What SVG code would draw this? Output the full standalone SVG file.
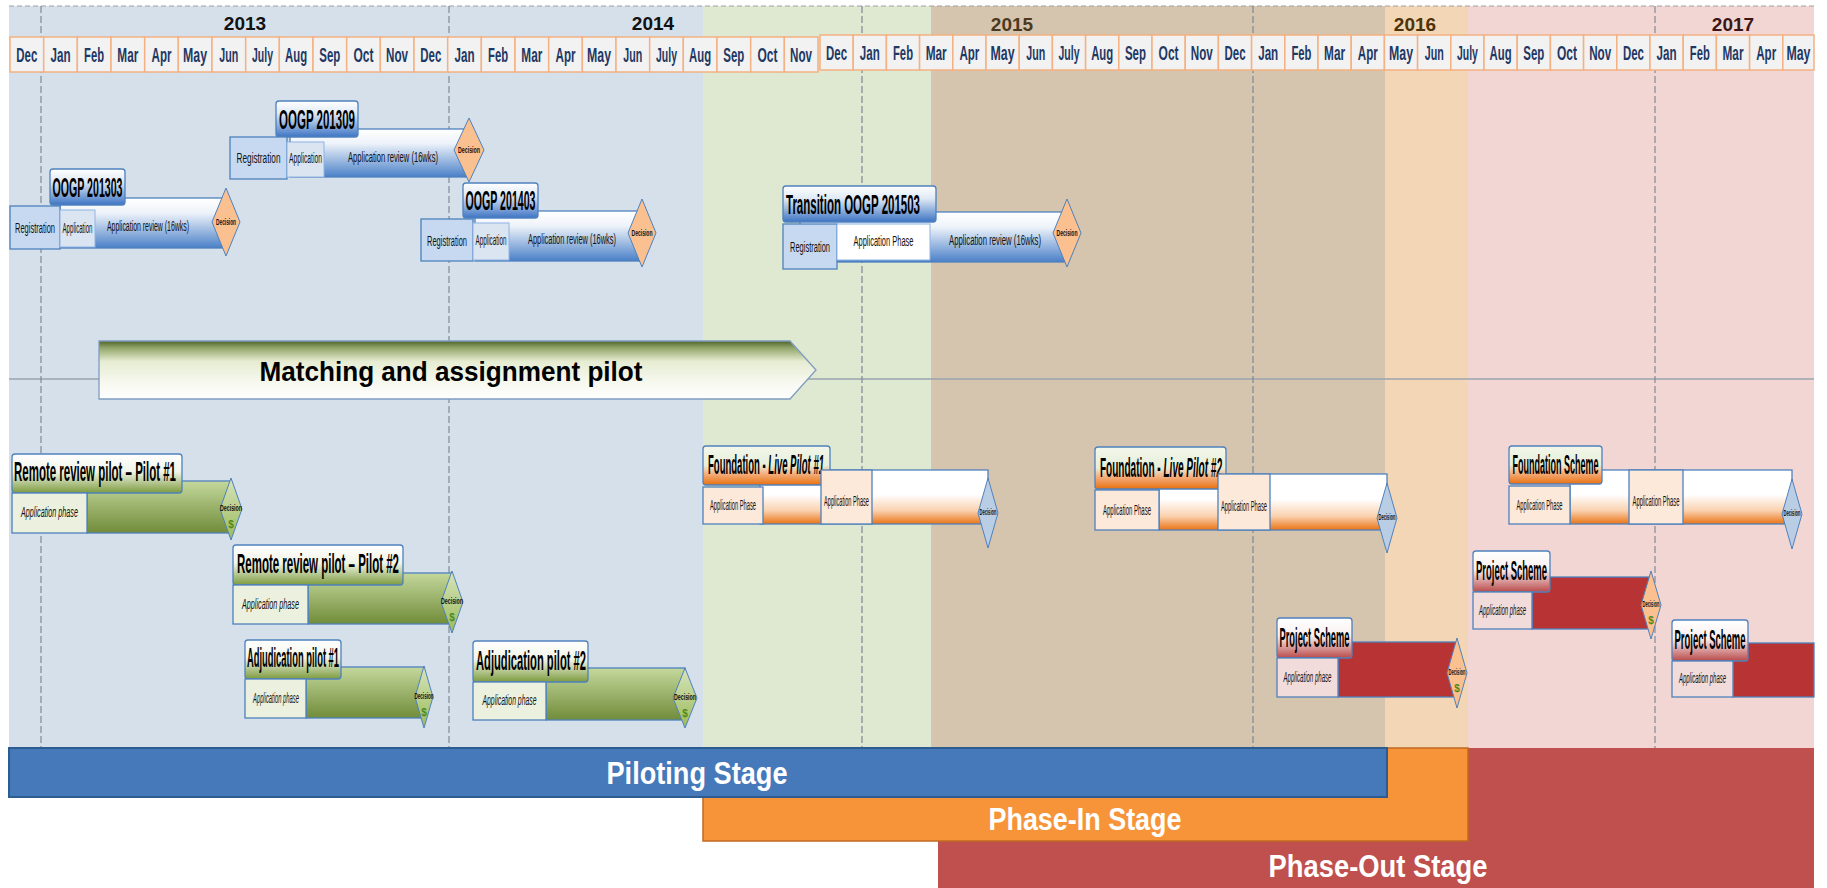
<svg xmlns="http://www.w3.org/2000/svg" width="1827" height="888" viewBox="0 0 1827 888">
<style>
.cell{fill:#f2f2f2;stroke:#f4b183;stroke-width:1.5}
.mon{font-family:"Liberation Sans",Arial,sans-serif;font-weight:bold;font-size:20px;fill:#1f3864;text-anchor:middle}
.yr{font-family:"Liberation Sans",Arial,sans-serif;font-weight:bold;font-size:19px;text-anchor:middle}
.vl{stroke:#7f8a96;stroke-width:1.2;stroke-dasharray:7 3}
.ttl{font-family:"Liberation Sans",Arial,sans-serif;font-weight:bold;font-size:28px;fill:#000;text-anchor:middle}
.sub{font-family:"Liberation Sans",Arial,sans-serif;font-size:14px;fill:#111;text-anchor:middle}
.subi{font-family:"Liberation Sans",Arial,sans-serif;font-size:14px;font-style:italic;fill:#111;text-anchor:middle}
.dec{font-family:"Liberation Sans",Arial,sans-serif;font-weight:bold;font-size:9px;fill:#111;text-anchor:middle}
.dol{font-family:"Liberation Sans",Arial,sans-serif;font-weight:bold;font-size:10px;fill:#4e8a1a;text-anchor:middle}
.stg{font-family:"Liberation Sans",Arial,sans-serif;font-weight:bold;font-size:31px;fill:#fff;text-anchor:middle}
.bord{stroke:#4f81bd;stroke-width:1.3}
</style>
<defs>
<linearGradient id="gBlueTitle" x1="0" y1="0" x2="0" y2="1"><stop offset="0" stop-color="#ffffff"/><stop offset="0.35" stop-color="#dfe9f5"/><stop offset="1" stop-color="#3d74c4"/></linearGradient>
<linearGradient id="gBlueBar" x1="0" y1="0" x2="0" y2="1"><stop offset="0" stop-color="#ffffff"/><stop offset="0.3" stop-color="#eef3fa"/><stop offset="1" stop-color="#4a80c8"/></linearGradient>
<linearGradient id="gGreenTitle" x1="0" y1="0" x2="0" y2="1"><stop offset="0" stop-color="#ffffff"/><stop offset="0.45" stop-color="#f1f5e8"/><stop offset="1" stop-color="#7d9b3e"/></linearGradient>
<linearGradient id="gGreenBar" x1="0" y1="0" x2="0" y2="1"><stop offset="0" stop-color="#c4d89c"/><stop offset="1" stop-color="#718c3a"/></linearGradient>
<linearGradient id="gGreenDia" x1="0" y1="0" x2="0" y2="1"><stop offset="0" stop-color="#d7e4bd"/><stop offset="1" stop-color="#9bbb59"/></linearGradient>
<linearGradient id="gOrTitle" x1="0" y1="0" x2="0" y2="1"><stop offset="0" stop-color="#f3f7ea"/><stop offset="0.5" stop-color="#e6eedb"/><stop offset="0.7" stop-color="#f4b183"/><stop offset="1" stop-color="#e8700f"/></linearGradient>
<linearGradient id="gOrBar" x1="0" y1="0" x2="0" y2="1"><stop offset="0" stop-color="#ffffff"/><stop offset="0.45" stop-color="#ffffff"/><stop offset="0.75" stop-color="#fad2b0"/><stop offset="1" stop-color="#ea7415"/></linearGradient>
<linearGradient id="gRedTitle" x1="0" y1="0" x2="0" y2="1"><stop offset="0" stop-color="#ffffff"/><stop offset="0.45" stop-color="#faf0f0"/><stop offset="1" stop-color="#b94a4a"/></linearGradient>
<linearGradient id="gArrow" x1="0" y1="0" x2="0" y2="1"><stop offset="0" stop-color="#4f6228"/><stop offset="0.12" stop-color="#93a66a"/><stop offset="0.35" stop-color="#e6ecd2"/><stop offset="0.7" stop-color="#f6f8ee"/><stop offset="1" stop-color="#ffffff"/></linearGradient>
</defs>

<g id="background">
<rect x="0" y="0" width="1827" height="888" fill="#ffffff"/>
<rect x="9" y="6" width="694" height="742" fill="#d5e0eb"/>
<rect x="703" y="6" width="228" height="742" fill="#dfe8d1"/>
<rect x="931" y="6" width="454" height="742" fill="#d5c4ae"/>
<rect x="1385" y="6" width="83" height="742" fill="#f2d6b6"/>
<rect x="1468" y="6" width="346" height="742" fill="#f2d6d4"/>
<line x1="9" y1="6" x2="1814" y2="6" stroke="#a0a0a0" stroke-width="1.2" stroke-dasharray="5 3"/>
<line x1="9" y1="379" x2="1814" y2="379" stroke="#9aa4ae" stroke-width="1.5"/>
<line class="vl" x1="41" y1="6" x2="41" y2="748"/>
<line class="vl" x1="449" y1="6" x2="449" y2="748"/>
<line class="vl" x1="862" y1="6" x2="862" y2="748"/>
<line class="vl" x1="1253" y1="6" x2="1253" y2="748"/>
<line class="vl" x1="1655" y1="6" x2="1655" y2="748"/>
</g>

<g id="years">
<text class="yr" x="245" y="30" fill="#111">2013</text>
<text class="yr" x="653" y="30" fill="#111">2014</text>
<text class="yr" x="1012" y="31" fill="#4d3a1e">2015</text>
<text class="yr" x="1415" y="31" fill="#4d3309">2016</text>
<text class="yr" x="1733" y="31" fill="#3a1616">2017</text>
</g>

<g id="months1">
<rect class="cell" x="10" y="37" width="33.7" height="35"/><text class="mon" x="26.8" y="62" textLength="21" lengthAdjust="spacingAndGlyphs">Dec</text>
<rect class="cell" x="43.7" y="37" width="33.7" height="35"/><text class="mon" x="60.5" y="62" textLength="20" lengthAdjust="spacingAndGlyphs">Jan</text>
<rect class="cell" x="77.3" y="37" width="33.7" height="35"/><text class="mon" x="94.1" y="62" textLength="20" lengthAdjust="spacingAndGlyphs">Feb</text>
<rect class="cell" x="111" y="37" width="33.7" height="35"/><text class="mon" x="127.8" y="62" textLength="21" lengthAdjust="spacingAndGlyphs">Mar</text>
<rect class="cell" x="144.7" y="37" width="33.7" height="35"/><text class="mon" x="161.5" y="62" textLength="20" lengthAdjust="spacingAndGlyphs">Apr</text>
<rect class="cell" x="178.3" y="37" width="33.7" height="35"/><text class="mon" x="195.1" y="62" textLength="24" lengthAdjust="spacingAndGlyphs">May</text>
<rect class="cell" x="212" y="37" width="33.7" height="35"/><text class="mon" x="228.8" y="62" textLength="19" lengthAdjust="spacingAndGlyphs">Jun</text>
<rect class="cell" x="245.7" y="37" width="33.7" height="35"/><text class="mon" x="262.5" y="62" textLength="21" lengthAdjust="spacingAndGlyphs">July</text>
<rect class="cell" x="279.3" y="37" width="33.7" height="35"/><text class="mon" x="296.1" y="62" textLength="22" lengthAdjust="spacingAndGlyphs">Aug</text>
<rect class="cell" x="313" y="37" width="33.7" height="35"/><text class="mon" x="329.8" y="62" textLength="21" lengthAdjust="spacingAndGlyphs">Sep</text>
<rect class="cell" x="346.7" y="37" width="33.7" height="35"/><text class="mon" x="363.5" y="62" textLength="20" lengthAdjust="spacingAndGlyphs">Oct</text>
<rect class="cell" x="380.3" y="37" width="33.7" height="35"/><text class="mon" x="397.1" y="62" textLength="22" lengthAdjust="spacingAndGlyphs">Nov</text>
<rect class="cell" x="414" y="37" width="33.7" height="35"/><text class="mon" x="430.8" y="62" textLength="21" lengthAdjust="spacingAndGlyphs">Dec</text>
<rect class="cell" x="447.7" y="37" width="33.7" height="35"/><text class="mon" x="464.5" y="62" textLength="20" lengthAdjust="spacingAndGlyphs">Jan</text>
<rect class="cell" x="481.3" y="37" width="33.7" height="35"/><text class="mon" x="498.1" y="62" textLength="20" lengthAdjust="spacingAndGlyphs">Feb</text>
<rect class="cell" x="515" y="37" width="33.7" height="35"/><text class="mon" x="531.8" y="62" textLength="21" lengthAdjust="spacingAndGlyphs">Mar</text>
<rect class="cell" x="548.7" y="37" width="33.7" height="35"/><text class="mon" x="565.5" y="62" textLength="20" lengthAdjust="spacingAndGlyphs">Apr</text>
<rect class="cell" x="582.3" y="37" width="33.7" height="35"/><text class="mon" x="599.1" y="62" textLength="24" lengthAdjust="spacingAndGlyphs">May</text>
<rect class="cell" x="616" y="37" width="33.7" height="35"/><text class="mon" x="632.8" y="62" textLength="19" lengthAdjust="spacingAndGlyphs">Jun</text>
<rect class="cell" x="649.7" y="37" width="33.7" height="35"/><text class="mon" x="666.5" y="62" textLength="21" lengthAdjust="spacingAndGlyphs">July</text>
<rect class="cell" x="683.3" y="37" width="33.7" height="35"/><text class="mon" x="700.1" y="62" textLength="22" lengthAdjust="spacingAndGlyphs">Aug</text>
<rect class="cell" x="717" y="37" width="33.7" height="35"/><text class="mon" x="733.8" y="62" textLength="21" lengthAdjust="spacingAndGlyphs">Sep</text>
<rect class="cell" x="750.7" y="37" width="33.7" height="35"/><text class="mon" x="767.5" y="62" textLength="20" lengthAdjust="spacingAndGlyphs">Oct</text>
<rect class="cell" x="784.3" y="37" width="33.7" height="35"/><text class="mon" x="801.1" y="62" textLength="22" lengthAdjust="spacingAndGlyphs">Nov</text>
</g>
<g id="months2">
<rect class="cell" x="820" y="35" width="33.2" height="35"/><text class="mon" x="836.6" y="60" textLength="21" lengthAdjust="spacingAndGlyphs">Dec</text>
<rect class="cell" x="853.2" y="35" width="33.2" height="35"/><text class="mon" x="869.8" y="60" textLength="20" lengthAdjust="spacingAndGlyphs">Jan</text>
<rect class="cell" x="886.4" y="35" width="33.2" height="35"/><text class="mon" x="903" y="60" textLength="20" lengthAdjust="spacingAndGlyphs">Feb</text>
<rect class="cell" x="919.6" y="35" width="33.2" height="35"/><text class="mon" x="936.2" y="60" textLength="21" lengthAdjust="spacingAndGlyphs">Mar</text>
<rect class="cell" x="952.8" y="35" width="33.2" height="35"/><text class="mon" x="969.4" y="60" textLength="20" lengthAdjust="spacingAndGlyphs">Apr</text>
<rect class="cell" x="986" y="35" width="33.2" height="35"/><text class="mon" x="1002.6" y="60" textLength="24" lengthAdjust="spacingAndGlyphs">May</text>
<rect class="cell" x="1019.2" y="35" width="33.2" height="35"/><text class="mon" x="1035.8" y="60" textLength="19" lengthAdjust="spacingAndGlyphs">Jun</text>
<rect class="cell" x="1052.4" y="35" width="33.2" height="35"/><text class="mon" x="1069" y="60" textLength="21" lengthAdjust="spacingAndGlyphs">July</text>
<rect class="cell" x="1085.6" y="35" width="33.2" height="35"/><text class="mon" x="1102.2" y="60" textLength="22" lengthAdjust="spacingAndGlyphs">Aug</text>
<rect class="cell" x="1118.8" y="35" width="33.2" height="35"/><text class="mon" x="1135.4" y="60" textLength="21" lengthAdjust="spacingAndGlyphs">Sep</text>
<rect class="cell" x="1152" y="35" width="33.2" height="35"/><text class="mon" x="1168.6" y="60" textLength="20" lengthAdjust="spacingAndGlyphs">Oct</text>
<rect class="cell" x="1185.2" y="35" width="33.2" height="35"/><text class="mon" x="1201.8" y="60" textLength="22" lengthAdjust="spacingAndGlyphs">Nov</text>
<rect class="cell" x="1218.4" y="35" width="33.2" height="35"/><text class="mon" x="1235" y="60" textLength="21" lengthAdjust="spacingAndGlyphs">Dec</text>
<rect class="cell" x="1251.6" y="35" width="33.2" height="35"/><text class="mon" x="1268.2" y="60" textLength="20" lengthAdjust="spacingAndGlyphs">Jan</text>
<rect class="cell" x="1284.8" y="35" width="33.2" height="35"/><text class="mon" x="1301.4" y="60" textLength="20" lengthAdjust="spacingAndGlyphs">Feb</text>
<rect class="cell" x="1318" y="35" width="33.2" height="35"/><text class="mon" x="1334.6" y="60" textLength="21" lengthAdjust="spacingAndGlyphs">Mar</text>
<rect class="cell" x="1351.2" y="35" width="33.2" height="35"/><text class="mon" x="1367.8" y="60" textLength="20" lengthAdjust="spacingAndGlyphs">Apr</text>
<rect class="cell" x="1384.4" y="35" width="33.2" height="35"/><text class="mon" x="1401" y="60" textLength="24" lengthAdjust="spacingAndGlyphs">May</text>
<rect class="cell" x="1417.6" y="35" width="33.2" height="35"/><text class="mon" x="1434.2" y="60" textLength="19" lengthAdjust="spacingAndGlyphs">Jun</text>
<rect class="cell" x="1450.8" y="35" width="33.2" height="35"/><text class="mon" x="1467.4" y="60" textLength="21" lengthAdjust="spacingAndGlyphs">July</text>
<rect class="cell" x="1484" y="35" width="33.2" height="35"/><text class="mon" x="1500.6" y="60" textLength="22" lengthAdjust="spacingAndGlyphs">Aug</text>
<rect class="cell" x="1517.2" y="35" width="33.2" height="35"/><text class="mon" x="1533.8" y="60" textLength="21" lengthAdjust="spacingAndGlyphs">Sep</text>
<rect class="cell" x="1550.4" y="35" width="33.2" height="35"/><text class="mon" x="1567" y="60" textLength="20" lengthAdjust="spacingAndGlyphs">Oct</text>
<rect class="cell" x="1583.6" y="35" width="33.2" height="35"/><text class="mon" x="1600.2" y="60" textLength="22" lengthAdjust="spacingAndGlyphs">Nov</text>
<rect class="cell" x="1616.8" y="35" width="33.2" height="35"/><text class="mon" x="1633.4" y="60" textLength="21" lengthAdjust="spacingAndGlyphs">Dec</text>
<rect class="cell" x="1650" y="35" width="33.2" height="35"/><text class="mon" x="1666.6" y="60" textLength="20" lengthAdjust="spacingAndGlyphs">Jan</text>
<rect class="cell" x="1683.2" y="35" width="33.2" height="35"/><text class="mon" x="1699.8" y="60" textLength="20" lengthAdjust="spacingAndGlyphs">Feb</text>
<rect class="cell" x="1716.4" y="35" width="33.2" height="35"/><text class="mon" x="1733" y="60" textLength="21" lengthAdjust="spacingAndGlyphs">Mar</text>
<rect class="cell" x="1749.6" y="35" width="33.2" height="35"/><text class="mon" x="1766.2" y="60" textLength="20" lengthAdjust="spacingAndGlyphs">Apr</text>
<rect class="cell" x="1782.8" y="35" width="31.2" height="35"/><text class="mon" x="1798.4" y="60" textLength="24" lengthAdjust="spacingAndGlyphs">May</text>
</g>

<g id="oogp201303">
<rect x="60" y="198" width="166" height="50" fill="url(#gBlueBar)" class="bord"/>
<rect x="50" y="169" width="75" height="36" rx="3" fill="url(#gBlueTitle)" class="bord"/>
<text class="ttl" x="87.5" y="197" textLength="70" lengthAdjust="spacingAndGlyphs">OOGP 201303</text>
<rect x="10" y="206" width="50" height="43" fill="#c6d9f1" class="bord"/>
<text class="sub" x="35" y="233" textLength="40" lengthAdjust="spacingAndGlyphs">Registration</text>
<rect x="60" y="210" width="35" height="37" fill="#dbe5f1" stroke="#8eb4e3"/>
<text class="sub" x="77.5" y="233" textLength="30" lengthAdjust="spacingAndGlyphs">Application</text>
<text class="sub" x="148" y="231" font-size="15" textLength="82" lengthAdjust="spacingAndGlyphs">Application review (16wks)</text>
<polygon points="226,188 240,222 226,256 212,222" fill="#fac090" stroke="#4f81bd"/>
<text class="dec" x="226" y="225" textLength="20" lengthAdjust="spacingAndGlyphs">Decision</text>
</g>

<g id="oogp201309">
<rect x="290" y="129" width="179" height="48" fill="url(#gBlueBar)" class="bord"/>
<rect x="276" y="101" width="82" height="36" rx="3" fill="url(#gBlueTitle)" class="bord"/>
<text class="ttl" x="317" y="129" textLength="76" lengthAdjust="spacingAndGlyphs">OOGP 201309</text>
<rect x="230" y="137" width="57" height="42" fill="#c6d9f1" class="bord"/>
<text class="sub" x="258.5" y="163" textLength="44" lengthAdjust="spacingAndGlyphs">Registration</text>
<rect x="287" y="142" width="37" height="35" fill="#dbe5f1" stroke="#8eb4e3"/>
<text class="sub" x="305.5" y="163" textLength="33" lengthAdjust="spacingAndGlyphs">Application</text>
<text class="sub" x="393" y="162" font-size="15" textLength="90" lengthAdjust="spacingAndGlyphs">Application review (16wks)</text>
<polygon points="469,118 484,150 469,182 454,150" fill="#fac090" stroke="#4f81bd"/>
<text class="dec" x="469" y="153" textLength="22" lengthAdjust="spacingAndGlyphs">Decision</text>
</g>

<g id="oogp201403">
<rect x="475" y="211" width="167" height="50" fill="url(#gBlueBar)" class="bord"/>
<rect x="463" y="183" width="75" height="35" rx="3" fill="url(#gBlueTitle)" class="bord"/>
<text class="ttl" x="500.5" y="210" textLength="70" lengthAdjust="spacingAndGlyphs">OOGP 201403</text>
<rect x="421" y="219" width="52" height="42" fill="#c6d9f1" class="bord"/>
<text class="sub" x="447" y="246" textLength="40" lengthAdjust="spacingAndGlyphs">Registration</text>
<rect x="473" y="223" width="36" height="37" fill="#dbe5f1" stroke="#8eb4e3"/>
<text class="sub" x="491" y="245" textLength="31" lengthAdjust="spacingAndGlyphs">Application</text>
<text class="sub" x="572" y="244" font-size="15" textLength="88" lengthAdjust="spacingAndGlyphs">Application review (16wks)</text>
<polygon points="642,199 656,233 642,267 628,233" fill="#fac090" stroke="#4f81bd"/>
<text class="dec" x="642" y="236" textLength="21" lengthAdjust="spacingAndGlyphs">Decision</text>
</g>

<g id="oogp201503">
<rect x="800" y="212" width="267" height="50" fill="url(#gBlueBar)" class="bord"/>
<rect x="783" y="186" width="153" height="36" rx="3" fill="url(#gBlueTitle)" class="bord"/>
<text class="ttl" x="853" y="214" textLength="134" lengthAdjust="spacingAndGlyphs">Transition OOGP 201503</text>
<rect x="783" y="224" width="54" height="45" fill="#c6d9f1" class="bord"/>
<text class="sub" x="810" y="252" textLength="40" lengthAdjust="spacingAndGlyphs">Registration</text>
<rect x="837" y="224" width="93" height="36" fill="#ffffff" stroke="#8eb4e3"/>
<text class="sub" x="883.5" y="246" font-size="15" textLength="60" lengthAdjust="spacingAndGlyphs">Application Phase</text>
<text class="sub" x="995" y="245" font-size="15" textLength="92" lengthAdjust="spacingAndGlyphs">Application review (16wks)</text>
<polygon points="1067,199 1081,233 1067,267 1053,233" fill="#fac090" stroke="#4f81bd"/>
<text class="dec" x="1067" y="236" textLength="21" lengthAdjust="spacingAndGlyphs">Decision</text>
</g>

<g id="matching">
<polygon points="99,341 790,341 816,370 790,399 99,399" fill="url(#gArrow)" stroke="#7f9cc0" stroke-width="1.3"/>
<text x="451" y="381" font-family="'Liberation Sans',Arial,sans-serif" font-weight="bold" font-size="27" text-anchor="middle" fill="#000" textLength="383" lengthAdjust="spacingAndGlyphs">Matching and assignment pilot</text>
</g>

<g id="remote1">
<rect x="87" y="481" width="144" height="52" fill="url(#gGreenBar)" class="bord"/>
<rect x="12" y="454" width="170" height="39" rx="3" fill="url(#gGreenTitle)" class="bord"/>
<text class="ttl" x="95" y="481" font-size="26" textLength="162" lengthAdjust="spacingAndGlyphs">Remote review pilot – Pilot #1</text>
<rect x="12" y="493" width="75" height="40" fill="#ebf1de" class="bord"/>
<text class="subi" x="49.5" y="517" textLength="57" lengthAdjust="spacingAndGlyphs">Application phase</text>
<polygon points="231,478 242,509 231,540 220,509" fill="url(#gGreenDia)" stroke="#4f81bd"/>
<text class="dec" x="231" y="511" textLength="22" lengthAdjust="spacingAndGlyphs">Decision</text>
<text class="dol" x="231" y="528">$</text>
</g>

<g id="remote2">
<rect x="308" y="573" width="144" height="51" fill="url(#gGreenBar)" class="bord"/>
<rect x="233" y="545" width="170" height="40" rx="3" fill="url(#gGreenTitle)" class="bord"/>
<text class="ttl" x="318" y="573" font-size="26" textLength="162" lengthAdjust="spacingAndGlyphs">Remote review pilot – Pilot #2</text>
<rect x="233" y="585" width="75" height="39" fill="#ebf1de" class="bord"/>
<text class="subi" x="270.5" y="609" textLength="57" lengthAdjust="spacingAndGlyphs">Application phase</text>
<polygon points="452,571 463,602 452,633 441,602" fill="url(#gGreenDia)" stroke="#4f81bd"/>
<text class="dec" x="452" y="604" textLength="22" lengthAdjust="spacingAndGlyphs">Decision</text>
<text class="dol" x="452" y="621">$</text>
</g>

<g id="adjudication1">
<rect x="306" y="667" width="118" height="51" fill="url(#gGreenBar)" class="bord"/>
<rect x="245" y="640" width="96" height="39" rx="3" fill="url(#gGreenTitle)" class="bord"/>
<text class="ttl" x="293" y="667" font-size="25" textLength="92" lengthAdjust="spacingAndGlyphs">Adjudication pilot #1</text>
<rect x="245" y="679" width="61" height="39" fill="#ebf1de" class="bord"/>
<text class="subi" x="276" y="703" font-size="13" textLength="46" lengthAdjust="spacingAndGlyphs">Application phase</text>
<polygon points="424,666 433,697 424,728 415,697" fill="url(#gGreenDia)" stroke="#4f81bd"/>
<text class="dec" x="424" y="699" textLength="19" lengthAdjust="spacingAndGlyphs">Decision</text>
<text class="dol" x="424" y="716">$</text>
</g>

<g id="adjudication2">
<rect x="546" y="668" width="139" height="52" fill="url(#gGreenBar)" class="bord"/>
<rect x="473" y="641" width="115" height="41" rx="3" fill="url(#gGreenTitle)" class="bord"/>
<text class="ttl" x="531" y="670" font-size="26" textLength="110" lengthAdjust="spacingAndGlyphs">Adjudication pilot #2</text>
<rect x="473" y="682" width="73" height="38" fill="#ebf1de" class="bord"/>
<text class="subi" x="509.5" y="705" textLength="54" lengthAdjust="spacingAndGlyphs">Application phase</text>
<polygon points="685,668 697,698 685,728 673,698" fill="url(#gGreenDia)" stroke="#4f81bd"/>
<text class="dec" x="685" y="700" textLength="22" lengthAdjust="spacingAndGlyphs">Decision</text>
<text class="dol" x="685" y="717">$</text>
</g>

<g id="foundation1">
<rect x="760" y="470" width="228" height="54" fill="url(#gOrBar)" class="bord"/>
<rect x="703" y="446" width="127" height="39" rx="3" fill="url(#gOrTitle)" class="bord"/>
<text class="ttl" x="766" y="474" font-size="24" textLength="116" lengthAdjust="spacingAndGlyphs">Foundation - <tspan font-style="italic">Live Pilot #1</tspan></text>
<rect x="703" y="487" width="60" height="37" fill="#fde9d9" class="bord"/>
<text class="sub" x="733" y="510" font-size="13" textLength="46" lengthAdjust="spacingAndGlyphs">Application Phase</text>
<rect x="821" y="470" width="51" height="54" fill="#fde9d9" class="bord"/>
<text class="sub" x="846.5" y="506" font-size="13" textLength="45" lengthAdjust="spacingAndGlyphs">Application Phase</text>
<polygon points="988,478 998,513 988,548 978,513" fill="#b9cde5" stroke="#4f81bd"/>
<text class="dec" x="988" y="515" font-size="7" textLength="17" lengthAdjust="spacingAndGlyphs">Decision</text>
</g>

<g id="foundation2">
<rect x="1159" y="474" width="228" height="56" fill="url(#gOrBar)" class="bord"/>
<rect x="1095" y="447" width="131" height="42" rx="3" fill="url(#gOrTitle)" class="bord"/>
<text class="ttl" x="1161" y="477" font-size="25" textLength="122" lengthAdjust="spacingAndGlyphs">Foundation - <tspan font-style="italic">Live Pilot #2</tspan></text>
<rect x="1095" y="490" width="64" height="40" fill="#fde9d9" class="bord"/>
<text class="sub" x="1127" y="515" font-size="13" textLength="48" lengthAdjust="spacingAndGlyphs">Application Phase</text>
<rect x="1218" y="474" width="52" height="56" fill="#fde9d9" class="bord"/>
<text class="sub" x="1244" y="511" font-size="13" textLength="46" lengthAdjust="spacingAndGlyphs">Application Phase</text>
<polygon points="1387,483 1397,518 1387,553 1377,518" fill="#b9cde5" stroke="#4f81bd"/>
<text class="dec" x="1387" y="520" font-size="7" textLength="17" lengthAdjust="spacingAndGlyphs">Decision</text>
</g>

<g id="foundationScheme">
<rect x="1570" y="470" width="222" height="54" fill="url(#gOrBar)" class="bord"/>
<rect x="1509" y="446" width="93" height="38" rx="3" fill="url(#gOrTitle)" class="bord"/>
<text class="ttl" x="1555.5" y="474" font-size="25" textLength="86" lengthAdjust="spacingAndGlyphs">Foundation Scheme</text>
<rect x="1509" y="486" width="61" height="38" fill="#fde9d9" class="bord"/>
<text class="sub" x="1539.5" y="510" font-size="13" textLength="46" lengthAdjust="spacingAndGlyphs">Application Phase</text>
<rect x="1629" y="470" width="54" height="54" fill="#fde9d9" class="bord"/>
<text class="sub" x="1656" y="506" font-size="13" textLength="47" lengthAdjust="spacingAndGlyphs">Application Phase</text>
<polygon points="1792,479 1802,514 1792,549 1782,514" fill="#b9cde5" stroke="#4f81bd"/>
<text class="dec" x="1792" y="516" font-size="7" textLength="17" lengthAdjust="spacingAndGlyphs">Decision</text>
</g>

<g id="project1">
<rect x="1338" y="642" width="119" height="55" fill="#b83434" class="bord"/>
<rect x="1277" y="618" width="75" height="40" rx="3" fill="url(#gRedTitle)" class="bord"/>
<text class="ttl" x="1314.5" y="647" font-size="25" textLength="70" lengthAdjust="spacingAndGlyphs">Project Scheme</text>
<rect x="1277" y="658" width="61" height="39" fill="#f2dcdb" class="bord"/>
<text class="subi" x="1307.5" y="682" font-size="13" textLength="48" lengthAdjust="spacingAndGlyphs">Application phase</text>
<polygon points="1457,638 1467,673 1457,708 1447,673" fill="#fac090" stroke="#4f81bd"/>
<text class="dec" x="1457" y="675" font-size="7" textLength="17" lengthAdjust="spacingAndGlyphs">Decision</text>
<text class="dol" x="1457" y="692">$</text>
</g>

<g id="project2">
<rect x="1532" y="577" width="119" height="52" fill="#b83434" class="bord"/>
<rect x="1473" y="551" width="77" height="41" rx="3" fill="url(#gRedTitle)" class="bord"/>
<text class="ttl" x="1511.5" y="580" font-size="25" textLength="71" lengthAdjust="spacingAndGlyphs">Project Scheme</text>
<rect x="1473" y="592" width="59" height="37" fill="#f2dcdb" class="bord"/>
<text class="subi" x="1502.5" y="615" font-size="13" textLength="47" lengthAdjust="spacingAndGlyphs">Application phase</text>
<polygon points="1651,571 1661,605 1651,639 1641,605" fill="#fac090" stroke="#4f81bd"/>
<text class="dec" x="1651" y="607" font-size="7" textLength="17" lengthAdjust="spacingAndGlyphs">Decision</text>
<text class="dol" x="1651" y="624">$</text>
</g>

<g id="project3">
<rect x="1733" y="643" width="81" height="54" fill="#b83434" class="bord"/>
<rect x="1672" y="620" width="76" height="41" rx="3" fill="url(#gRedTitle)" class="bord"/>
<text class="ttl" x="1710" y="649" font-size="25" textLength="71" lengthAdjust="spacingAndGlyphs">Project Scheme</text>
<rect x="1672" y="661" width="61" height="36" fill="#f2dcdb" class="bord"/>
<text class="subi" x="1702.5" y="683" font-size="13" textLength="47" lengthAdjust="spacingAndGlyphs">Application phase</text>
</g>

<g id="stages">
<rect x="938" y="748" width="876" height="140" fill="#c0504d"/>
<rect x="703" y="748" width="765" height="93" fill="#f79439" stroke="#c06a20" stroke-width="1.5"/>
<rect x="9" y="748" width="1378" height="49" fill="#4679ba" stroke="#2d5c91" stroke-width="2"/>
<text class="stg" x="697" y="784" textLength="181" lengthAdjust="spacingAndGlyphs">Piloting Stage</text>
<text class="stg" x="1085" y="830" textLength="193" lengthAdjust="spacingAndGlyphs">Phase-In Stage</text>
<text class="stg" x="1378" y="877" textLength="219" lengthAdjust="spacingAndGlyphs">Phase-Out Stage</text>
</g>
</svg>
